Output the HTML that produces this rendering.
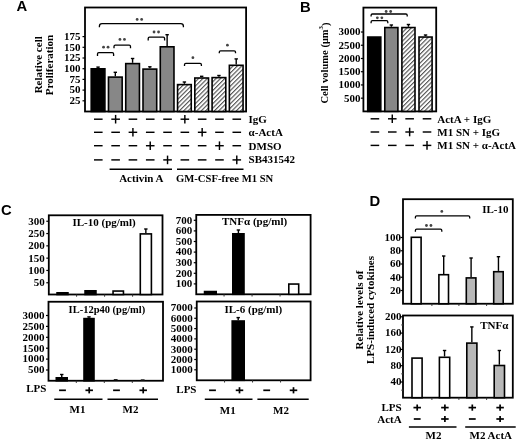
<!DOCTYPE html>
<html><head><meta charset="utf-8"><style>
html,body{margin:0;padding:0;background:#fff;width:520px;height:442px;overflow:hidden}
svg{display:block;filter:blur(0.3px)}
</style></head><body>
<svg width="520" height="442" viewBox="0 0 520 442">
<rect width="520" height="442" fill="#fff"/>
<defs><pattern id="h" patternUnits="userSpaceOnUse" width="3.1" height="3.1" patternTransform="rotate(45)"><rect width="3.1" height="3.1" fill="#fff"/><line x1="0.6" y1="0" x2="0.6" y2="3.1" stroke="#333" stroke-width="0.95"/></pattern></defs>
<text x="16.5" y="11.2" font-size="14.8" text-anchor="start" style="font-family:'Liberation Sans',sans-serif;font-weight:bold" >A</text>
<rect x="85" y="7.5" width="161.1" height="104.0" fill="none" stroke="#000" stroke-width="1.8"/>
<line x1="82.5" y1="100.8" x2="85" y2="100.8" stroke="#000" stroke-width="1.2"/>
<text x="80.5" y="104.14999999999999" font-size="11" text-anchor="end" style="font-family:'Liberation Serif',serif;font-weight:bold" >25</text>
<line x1="82.5" y1="90.1" x2="85" y2="90.1" stroke="#000" stroke-width="1.2"/>
<text x="80.5" y="93.44999999999999" font-size="11" text-anchor="end" style="font-family:'Liberation Serif',serif;font-weight:bold" >50</text>
<line x1="82.5" y1="79.4" x2="85" y2="79.4" stroke="#000" stroke-width="1.2"/>
<text x="80.5" y="82.75" font-size="11" text-anchor="end" style="font-family:'Liberation Serif',serif;font-weight:bold" >75</text>
<line x1="82.5" y1="68.7" x2="85" y2="68.7" stroke="#000" stroke-width="1.2"/>
<text x="80.5" y="72.05" font-size="11" text-anchor="end" style="font-family:'Liberation Serif',serif;font-weight:bold" >100</text>
<line x1="82.5" y1="58.0" x2="85" y2="58.0" stroke="#000" stroke-width="1.2"/>
<text x="80.5" y="61.35" font-size="11" text-anchor="end" style="font-family:'Liberation Serif',serif;font-weight:bold" >125</text>
<line x1="82.5" y1="47.30000000000001" x2="85" y2="47.30000000000001" stroke="#000" stroke-width="1.2"/>
<text x="80.5" y="50.65000000000001" font-size="11" text-anchor="end" style="font-family:'Liberation Serif',serif;font-weight:bold" >150</text>
<line x1="82.5" y1="36.60000000000001" x2="85" y2="36.60000000000001" stroke="#000" stroke-width="1.2"/>
<text x="80.5" y="39.95000000000001" font-size="11" text-anchor="end" style="font-family:'Liberation Serif',serif;font-weight:bold" >175</text>
<text x="0" y="0" font-size="11" text-anchor="middle" dominant-baseline="central" style="font-family:'Liberation Serif',serif;font-weight:bold" transform="translate(37.5,64.8) rotate(-90)">Relative cell</text>
<text x="0" y="0" font-size="11" text-anchor="middle" dominant-baseline="central" style="font-family:'Liberation Serif',serif;font-weight:bold" transform="translate(48.7,65) rotate(-90)">Proliferation</text>
<line x1="98.05000000000001" y1="68.0" x2="98.05000000000001" y2="67.1" stroke="#000" stroke-width="1.4"/>
<line x1="96.35000000000001" y1="67.1" x2="99.75000000000001" y2="67.1" stroke="#000" stroke-width="1.4"/>
<rect x="91.2" y="68.8" width="13.699999999999998" height="42.7" fill="#000" stroke="#000" stroke-width="1.6"/>
<line x1="115.32" y1="76.3" x2="115.32" y2="72.3" stroke="#000" stroke-width="1.4"/>
<line x1="113.61999999999999" y1="72.3" x2="117.02" y2="72.3" stroke="#000" stroke-width="1.4"/>
<rect x="108.47" y="77.1" width="13.699999999999998" height="34.400000000000006" fill="#878787" stroke="#000" stroke-width="1.6"/>
<line x1="132.59" y1="62.8" x2="132.59" y2="58.5" stroke="#000" stroke-width="1.4"/>
<line x1="130.89000000000001" y1="58.5" x2="134.29" y2="58.5" stroke="#000" stroke-width="1.4"/>
<rect x="125.74" y="63.599999999999994" width="13.700000000000012" height="47.900000000000006" fill="#878787" stroke="#000" stroke-width="1.6"/>
<line x1="149.86" y1="68.3" x2="149.86" y2="66.8" stroke="#000" stroke-width="1.4"/>
<line x1="148.16000000000003" y1="66.8" x2="151.56" y2="66.8" stroke="#000" stroke-width="1.4"/>
<rect x="143.01000000000002" y="69.1" width="13.700000000000012" height="42.400000000000006" fill="#878787" stroke="#000" stroke-width="1.6"/>
<line x1="167.13000000000002" y1="46" x2="167.13000000000002" y2="34.7" stroke="#000" stroke-width="1.4"/>
<line x1="165.43000000000004" y1="34.7" x2="168.83" y2="34.7" stroke="#000" stroke-width="1.4"/>
<rect x="160.28000000000003" y="46.8" width="13.700000000000012" height="64.7" fill="#878787" stroke="#000" stroke-width="1.6"/>
<line x1="184.4" y1="83.8" x2="184.4" y2="82" stroke="#000" stroke-width="1.4"/>
<line x1="182.70000000000002" y1="82" x2="186.1" y2="82" stroke="#000" stroke-width="1.4"/>
<rect x="177.55" y="84.6" width="13.700000000000012" height="26.900000000000002" fill="url(#h)" stroke="#000" stroke-width="1.6"/>
<line x1="201.67000000000002" y1="77.2" x2="201.67000000000002" y2="76.3" stroke="#000" stroke-width="1.4"/>
<line x1="199.97000000000003" y1="76.3" x2="203.37" y2="76.3" stroke="#000" stroke-width="1.4"/>
<rect x="194.82000000000002" y="78.0" width="13.700000000000012" height="33.5" fill="url(#h)" stroke="#000" stroke-width="1.6"/>
<line x1="218.94000000000003" y1="76.8" x2="218.94000000000003" y2="75.5" stroke="#000" stroke-width="1.4"/>
<line x1="217.24000000000004" y1="75.5" x2="220.64000000000001" y2="75.5" stroke="#000" stroke-width="1.4"/>
<rect x="212.09000000000003" y="77.6" width="13.700000000000012" height="33.900000000000006" fill="url(#h)" stroke="#000" stroke-width="1.6"/>
<line x1="236.21" y1="64.5" x2="236.21" y2="58.9" stroke="#000" stroke-width="1.4"/>
<line x1="234.51000000000002" y1="58.9" x2="237.91" y2="58.9" stroke="#000" stroke-width="1.4"/>
<rect x="229.36" y="65.3" width="13.700000000000012" height="46.2" fill="url(#h)" stroke="#000" stroke-width="1.6"/>
<path d="M97.5,55.900000000000006 L97.5,54.0 Q97.5,52.7 98.8,52.7 L112.3,52.7 Q113.6,52.7 113.6,54.0 L113.6,55.900000000000006" fill="none" stroke="#000" stroke-width="1.3"/>
<circle cx="103.55" cy="47.2" r="1.4" fill="#444"/>
<circle cx="108.05" cy="47.2" r="1.4" fill="#444"/>
<path d="M114,48.300000000000004 L114,46.4 Q114,45.1 115.3,45.1 L129.2,45.1 Q130.5,45.1 130.5,46.4 L130.5,48.300000000000004" fill="none" stroke="#000" stroke-width="1.3"/>
<circle cx="119.95" cy="39.4" r="1.4" fill="#444"/>
<circle cx="124.45" cy="39.4" r="1.4" fill="#444"/>
<path d="M148.2,40.400000000000006 L148.2,38.5 Q148.2,37.2 149.5,37.2 L163.29999999999998,37.2 Q164.6,37.2 164.6,38.5 L164.6,40.400000000000006" fill="none" stroke="#000" stroke-width="1.3"/>
<circle cx="154.05" cy="32.0" r="1.4" fill="#444"/>
<circle cx="158.55" cy="32.0" r="1.4" fill="#444"/>
<path d="M99.4,27.200000000000003 L99.4,26.200000000000003 Q99.4,23.6 102.0,23.6 L180.8,23.6 Q183.4,23.6 183.4,26.200000000000003 L183.4,27.200000000000003" fill="none" stroke="#000" stroke-width="1.3"/>
<circle cx="137.15" cy="19.4" r="1.4" fill="#444"/>
<circle cx="141.65" cy="19.4" r="1.4" fill="#444"/>
<path d="M184.5,65.9 L184.5,64.7 Q184.5,63.4 185.8,63.4 L200.1,63.4 Q201.4,63.4 201.4,64.7 L201.4,65.9" fill="none" stroke="#000" stroke-width="1.3"/>
<circle cx="192.9" cy="57.7" r="1.4" fill="#444"/>
<path d="M219.3,53.3 L219.3,52.099999999999994 Q219.3,50.8 220.60000000000002,50.8 L234.2,50.8 Q235.5,50.8 235.5,52.099999999999994 L235.5,53.3" fill="none" stroke="#000" stroke-width="1.3"/>
<circle cx="227.4" cy="45.2" r="1.4" fill="#444"/>
<line x1="94.0" y1="119.2" x2="102.6" y2="119.2" stroke="#000" stroke-width="1.45"/>
<line x1="111.31" y1="119.2" x2="119.91" y2="119.2" stroke="#000" stroke-width="1.45"/>
<line x1="115.61" y1="114.9" x2="115.61" y2="123.5" stroke="#000" stroke-width="1.45"/>
<line x1="128.61999999999998" y1="119.2" x2="137.22" y2="119.2" stroke="#000" stroke-width="1.45"/>
<line x1="145.92999999999998" y1="119.2" x2="154.53" y2="119.2" stroke="#000" stroke-width="1.45"/>
<line x1="163.23999999999998" y1="119.2" x2="171.84" y2="119.2" stroke="#000" stroke-width="1.45"/>
<line x1="180.54999999999998" y1="119.2" x2="189.15" y2="119.2" stroke="#000" stroke-width="1.45"/>
<line x1="184.85" y1="114.9" x2="184.85" y2="123.5" stroke="#000" stroke-width="1.45"/>
<line x1="197.85999999999996" y1="119.2" x2="206.45999999999998" y2="119.2" stroke="#000" stroke-width="1.45"/>
<line x1="215.16999999999996" y1="119.2" x2="223.76999999999998" y2="119.2" stroke="#000" stroke-width="1.45"/>
<line x1="232.47999999999996" y1="119.2" x2="241.07999999999998" y2="119.2" stroke="#000" stroke-width="1.45"/>
<line x1="94.0" y1="132.3" x2="102.6" y2="132.3" stroke="#000" stroke-width="1.45"/>
<line x1="111.31" y1="132.3" x2="119.91" y2="132.3" stroke="#000" stroke-width="1.45"/>
<line x1="128.61999999999998" y1="132.3" x2="137.22" y2="132.3" stroke="#000" stroke-width="1.45"/>
<line x1="132.92" y1="128.0" x2="132.92" y2="136.60000000000002" stroke="#000" stroke-width="1.45"/>
<line x1="145.92999999999998" y1="132.3" x2="154.53" y2="132.3" stroke="#000" stroke-width="1.45"/>
<line x1="163.23999999999998" y1="132.3" x2="171.84" y2="132.3" stroke="#000" stroke-width="1.45"/>
<line x1="180.54999999999998" y1="132.3" x2="189.15" y2="132.3" stroke="#000" stroke-width="1.45"/>
<line x1="197.85999999999996" y1="132.3" x2="206.45999999999998" y2="132.3" stroke="#000" stroke-width="1.45"/>
<line x1="202.15999999999997" y1="128.0" x2="202.15999999999997" y2="136.60000000000002" stroke="#000" stroke-width="1.45"/>
<line x1="215.16999999999996" y1="132.3" x2="223.76999999999998" y2="132.3" stroke="#000" stroke-width="1.45"/>
<line x1="232.47999999999996" y1="132.3" x2="241.07999999999998" y2="132.3" stroke="#000" stroke-width="1.45"/>
<line x1="94.0" y1="145.7" x2="102.6" y2="145.7" stroke="#000" stroke-width="1.45"/>
<line x1="111.31" y1="145.7" x2="119.91" y2="145.7" stroke="#000" stroke-width="1.45"/>
<line x1="128.61999999999998" y1="145.7" x2="137.22" y2="145.7" stroke="#000" stroke-width="1.45"/>
<line x1="145.92999999999998" y1="145.7" x2="154.53" y2="145.7" stroke="#000" stroke-width="1.45"/>
<line x1="150.23" y1="141.39999999999998" x2="150.23" y2="150.0" stroke="#000" stroke-width="1.45"/>
<line x1="163.23999999999998" y1="145.7" x2="171.84" y2="145.7" stroke="#000" stroke-width="1.45"/>
<line x1="180.54999999999998" y1="145.7" x2="189.15" y2="145.7" stroke="#000" stroke-width="1.45"/>
<line x1="197.85999999999996" y1="145.7" x2="206.45999999999998" y2="145.7" stroke="#000" stroke-width="1.45"/>
<line x1="215.16999999999996" y1="145.7" x2="223.76999999999998" y2="145.7" stroke="#000" stroke-width="1.45"/>
<line x1="219.46999999999997" y1="141.39999999999998" x2="219.46999999999997" y2="150.0" stroke="#000" stroke-width="1.45"/>
<line x1="232.47999999999996" y1="145.7" x2="241.07999999999998" y2="145.7" stroke="#000" stroke-width="1.45"/>
<line x1="94.0" y1="159.9" x2="102.6" y2="159.9" stroke="#000" stroke-width="1.45"/>
<line x1="111.31" y1="159.9" x2="119.91" y2="159.9" stroke="#000" stroke-width="1.45"/>
<line x1="128.61999999999998" y1="159.9" x2="137.22" y2="159.9" stroke="#000" stroke-width="1.45"/>
<line x1="145.92999999999998" y1="159.9" x2="154.53" y2="159.9" stroke="#000" stroke-width="1.45"/>
<line x1="163.23999999999998" y1="159.9" x2="171.84" y2="159.9" stroke="#000" stroke-width="1.45"/>
<line x1="167.54" y1="155.6" x2="167.54" y2="164.20000000000002" stroke="#000" stroke-width="1.45"/>
<line x1="180.54999999999998" y1="159.9" x2="189.15" y2="159.9" stroke="#000" stroke-width="1.45"/>
<line x1="197.85999999999996" y1="159.9" x2="206.45999999999998" y2="159.9" stroke="#000" stroke-width="1.45"/>
<line x1="215.16999999999996" y1="159.9" x2="223.76999999999998" y2="159.9" stroke="#000" stroke-width="1.45"/>
<line x1="232.47999999999996" y1="159.9" x2="241.07999999999998" y2="159.9" stroke="#000" stroke-width="1.45"/>
<line x1="236.77999999999997" y1="155.6" x2="236.77999999999997" y2="164.20000000000002" stroke="#000" stroke-width="1.45"/>
<text x="248.6" y="122.8" font-size="11" text-anchor="start" style="font-family:'Liberation Serif',serif;font-weight:bold" >IgG</text>
<text x="248.6" y="136.2" font-size="11" text-anchor="start" style="font-family:'Liberation Serif',serif;font-weight:bold" >&#945;-ActA</text>
<text x="248.6" y="149.5" font-size="11" text-anchor="start" style="font-family:'Liberation Serif',serif;font-weight:bold" >DMSO</text>
<text x="248.6" y="163.0" font-size="11" text-anchor="start" style="font-family:'Liberation Serif',serif;font-weight:bold" >SB431542</text>
<line x1="109.6" y1="169.3" x2="172" y2="169.3" stroke="#000" stroke-width="1.5"/>
<line x1="177" y1="169.3" x2="243.5" y2="169.3" stroke="#000" stroke-width="1.5"/>
<text x="141.3" y="181.5" font-size="11" text-anchor="middle" style="font-family:'Liberation Serif',serif;font-weight:bold" >Activin A</text>
<text x="176" y="181.5" font-size="11" text-anchor="start" style="font-family:'Liberation Serif',serif;font-weight:bold" textLength="97.3" lengthAdjust="spacingAndGlyphs">GM-CSF-free M1 SN</text>
<text x="300" y="11.9" font-size="14.8" text-anchor="start" style="font-family:'Liberation Sans',sans-serif;font-weight:bold" >B</text>
<rect x="363.4" y="7.6" width="72.80000000000001" height="103.80000000000001" fill="none" stroke="#000" stroke-width="1.8"/>
<line x1="360.9" y1="98.17" x2="363.4" y2="98.17" stroke="#000" stroke-width="1.2"/>
<text x="360.5" y="101.52" font-size="11" text-anchor="end" style="font-family:'Liberation Serif',serif;font-weight:bold" >500</text>
<line x1="360.9" y1="84.94" x2="363.4" y2="84.94" stroke="#000" stroke-width="1.2"/>
<text x="360.5" y="88.28999999999999" font-size="11" text-anchor="end" style="font-family:'Liberation Serif',serif;font-weight:bold" >1000</text>
<line x1="360.9" y1="71.71000000000001" x2="363.4" y2="71.71000000000001" stroke="#000" stroke-width="1.2"/>
<text x="360.5" y="75.06" font-size="11" text-anchor="end" style="font-family:'Liberation Serif',serif;font-weight:bold" >1500</text>
<line x1="360.9" y1="58.480000000000004" x2="363.4" y2="58.480000000000004" stroke="#000" stroke-width="1.2"/>
<text x="360.5" y="61.830000000000005" font-size="11" text-anchor="end" style="font-family:'Liberation Serif',serif;font-weight:bold" >2000</text>
<line x1="360.9" y1="45.25" x2="363.4" y2="45.25" stroke="#000" stroke-width="1.2"/>
<text x="360.5" y="48.6" font-size="11" text-anchor="end" style="font-family:'Liberation Serif',serif;font-weight:bold" >2500</text>
<line x1="360.9" y1="32.02000000000001" x2="363.4" y2="32.02000000000001" stroke="#000" stroke-width="1.2"/>
<text x="360.5" y="35.37000000000001" font-size="11" text-anchor="end" style="font-family:'Liberation Serif',serif;font-weight:bold" >3000</text>
<text x="0" y="0" font-size="10.5" text-anchor="middle" dominant-baseline="central" style="font-family:'Liberation Serif',serif;font-weight:bold" transform="translate(324.5,63) rotate(-90)">Cell volume (&#956;m<tspan font-size="7" dy="-4">3</tspan><tspan dy="4">)</tspan></text>
<rect x="367.7" y="37.05" width="13.099999999999989" height="74.35000000000001" fill="#000" stroke="#000" stroke-width="1.6"/>
<line x1="391.35" y1="26.75" x2="391.35" y2="25" stroke="#000" stroke-width="1.4"/>
<line x1="389.65000000000003" y1="25" x2="393.05" y2="25" stroke="#000" stroke-width="1.4"/>
<rect x="384.8" y="27.55" width="13.099999999999989" height="83.85000000000001" fill="#878787" stroke="#000" stroke-width="1.6"/>
<line x1="408.44999999999993" y1="26.75" x2="408.44999999999993" y2="24.5" stroke="#000" stroke-width="1.4"/>
<line x1="406.74999999999994" y1="24.5" x2="410.1499999999999" y2="24.5" stroke="#000" stroke-width="1.4"/>
<rect x="401.9" y="27.55" width="13.099999999999989" height="83.85000000000001" fill="url(#h)" stroke="#000" stroke-width="1.6"/>
<line x1="425.54999999999995" y1="36.25" x2="425.54999999999995" y2="35" stroke="#000" stroke-width="1.4"/>
<line x1="423.84999999999997" y1="35" x2="427.24999999999994" y2="35" stroke="#000" stroke-width="1.4"/>
<rect x="419.0" y="37.05" width="13.099999999999989" height="74.35000000000001" fill="url(#h)" stroke="#000" stroke-width="1.6"/>
<path d="M371.1,23.3 L371.1,22.0 Q371.1,20.7 372.40000000000003,20.7 L386.5,20.7 Q387.8,20.7 387.8,22.0 L387.8,23.3" fill="none" stroke="#000" stroke-width="1.3"/>
<circle cx="377.35" cy="17.8" r="1.4" fill="#444"/>
<circle cx="381.85" cy="17.8" r="1.4" fill="#444"/>
<path d="M371.1,16.6 L371.1,15.3 Q371.1,14.0 372.40000000000003,14.0 L405.9,14.0 Q407.2,14.0 407.2,15.3 L407.2,16.6" fill="none" stroke="#000" stroke-width="1.3"/>
<circle cx="386.15" cy="11.5" r="1.4" fill="#444"/>
<circle cx="390.65" cy="11.5" r="1.4" fill="#444"/>
<line x1="370.59999999999997" y1="118.8" x2="379.2" y2="118.8" stroke="#000" stroke-width="1.45"/>
<line x1="387.96999999999997" y1="118.8" x2="396.57" y2="118.8" stroke="#000" stroke-width="1.45"/>
<line x1="392.27" y1="114.5" x2="392.27" y2="123.1" stroke="#000" stroke-width="1.45"/>
<line x1="405.34" y1="118.8" x2="413.94" y2="118.8" stroke="#000" stroke-width="1.45"/>
<line x1="422.71" y1="118.8" x2="431.31" y2="118.8" stroke="#000" stroke-width="1.45"/>
<line x1="370.59999999999997" y1="132.0" x2="379.2" y2="132.0" stroke="#000" stroke-width="1.45"/>
<line x1="387.96999999999997" y1="132.0" x2="396.57" y2="132.0" stroke="#000" stroke-width="1.45"/>
<line x1="405.34" y1="132.0" x2="413.94" y2="132.0" stroke="#000" stroke-width="1.45"/>
<line x1="409.64" y1="127.7" x2="409.64" y2="136.3" stroke="#000" stroke-width="1.45"/>
<line x1="422.71" y1="132.0" x2="431.31" y2="132.0" stroke="#000" stroke-width="1.45"/>
<line x1="370.59999999999997" y1="145.4" x2="379.2" y2="145.4" stroke="#000" stroke-width="1.45"/>
<line x1="387.96999999999997" y1="145.4" x2="396.57" y2="145.4" stroke="#000" stroke-width="1.45"/>
<line x1="405.34" y1="145.4" x2="413.94" y2="145.4" stroke="#000" stroke-width="1.45"/>
<line x1="422.71" y1="145.4" x2="431.31" y2="145.4" stroke="#000" stroke-width="1.45"/>
<line x1="427.01" y1="141.1" x2="427.01" y2="149.70000000000002" stroke="#000" stroke-width="1.45"/>
<text x="437.3" y="122.7" font-size="11" text-anchor="start" style="font-family:'Liberation Serif',serif;font-weight:bold" >ActA + IgG</text>
<text x="437.3" y="136.1" font-size="11" text-anchor="start" style="font-family:'Liberation Serif',serif;font-weight:bold" >M1 SN + IgG</text>
<text x="437.3" y="149.1" font-size="11" text-anchor="start" style="font-family:'Liberation Serif',serif;font-weight:bold" >M1 SN + &#945;-ActA</text>
<text x="0.9" y="215.4" font-size="14.8" text-anchor="start" style="font-family:'Liberation Sans',sans-serif;font-weight:bold" >C</text>
<rect x="48.8" y="215.3" width="113.7" height="79.19999999999999" fill="none" stroke="#000" stroke-width="1.8"/>
<line x1="46.3" y1="221.25" x2="48.8" y2="221.25" stroke="#000" stroke-width="1.2"/>
<text x="44.8" y="224.6" font-size="11" text-anchor="end" style="font-family:'Liberation Serif',serif;font-weight:bold" >300</text>
<line x1="46.3" y1="233.55" x2="48.8" y2="233.55" stroke="#000" stroke-width="1.2"/>
<text x="44.8" y="236.9" font-size="11" text-anchor="end" style="font-family:'Liberation Serif',serif;font-weight:bold" >250</text>
<line x1="46.3" y1="245.85" x2="48.8" y2="245.85" stroke="#000" stroke-width="1.2"/>
<text x="44.8" y="249.2" font-size="11" text-anchor="end" style="font-family:'Liberation Serif',serif;font-weight:bold" >200</text>
<line x1="46.3" y1="258.15" x2="48.8" y2="258.15" stroke="#000" stroke-width="1.2"/>
<text x="44.8" y="261.5" font-size="11" text-anchor="end" style="font-family:'Liberation Serif',serif;font-weight:bold" >150</text>
<line x1="46.3" y1="270.45" x2="48.8" y2="270.45" stroke="#000" stroke-width="1.2"/>
<text x="44.8" y="273.8" font-size="11" text-anchor="end" style="font-family:'Liberation Serif',serif;font-weight:bold" >100</text>
<line x1="46.3" y1="282.75" x2="48.8" y2="282.75" stroke="#000" stroke-width="1.2"/>
<text x="44.8" y="286.1" font-size="11" text-anchor="end" style="font-family:'Liberation Serif',serif;font-weight:bold" >50</text>
<rect x="57.05" y="292.8" width="10.9" height="1.7" fill="#000" stroke="#000" stroke-width="1.6"/>
<rect x="85.05" y="290.8" width="10.9" height="3.7" fill="#000" stroke="#000" stroke-width="1.6"/>
<rect x="113.05" y="291.05" width="10.4" height="3.45" fill="#fff" stroke="#000" stroke-width="1.6"/>
<line x1="145.85" y1="233.1" x2="145.85" y2="229" stroke="#000" stroke-width="1.4"/>
<line x1="144.15" y1="229" x2="147.54999999999998" y2="229" stroke="#000" stroke-width="1.4"/>
<rect x="140.3" y="233.9" width="11.099999999999989" height="60.60000000000001" fill="#fff" stroke="#000" stroke-width="1.6"/>
<line x1="76.6" y1="294.5" x2="76.6" y2="296.7" stroke="#333" stroke-width="1.0"/>
<line x1="104.6" y1="294.5" x2="104.6" y2="296.7" stroke="#333" stroke-width="1.0"/>
<line x1="132.60000000000002" y1="294.5" x2="132.60000000000002" y2="296.7" stroke="#333" stroke-width="1.0"/>
<text x="72.5" y="226.25" font-size="11" text-anchor="start" style="font-family:'Liberation Serif',serif;font-weight:bold" >IL-10 (pg/ml)</text>
<rect x="196.25" y="214.9" width="114.35000000000002" height="79.4" fill="none" stroke="#000" stroke-width="1.8"/>
<line x1="193.75" y1="220.3" x2="196.25" y2="220.3" stroke="#000" stroke-width="1.2"/>
<text x="192.25" y="223.65" font-size="11" text-anchor="end" style="font-family:'Liberation Serif',serif;font-weight:bold" >700</text>
<line x1="193.75" y1="230.9" x2="196.25" y2="230.9" stroke="#000" stroke-width="1.2"/>
<text x="192.25" y="234.25" font-size="11" text-anchor="end" style="font-family:'Liberation Serif',serif;font-weight:bold" >600</text>
<line x1="193.75" y1="241.5" x2="196.25" y2="241.5" stroke="#000" stroke-width="1.2"/>
<text x="192.25" y="244.85" font-size="11" text-anchor="end" style="font-family:'Liberation Serif',serif;font-weight:bold" >500</text>
<line x1="193.75" y1="252.10000000000002" x2="196.25" y2="252.10000000000002" stroke="#000" stroke-width="1.2"/>
<text x="192.25" y="255.45000000000002" font-size="11" text-anchor="end" style="font-family:'Liberation Serif',serif;font-weight:bold" >400</text>
<line x1="193.75" y1="262.7" x2="196.25" y2="262.7" stroke="#000" stroke-width="1.2"/>
<text x="192.25" y="266.05" font-size="11" text-anchor="end" style="font-family:'Liberation Serif',serif;font-weight:bold" >300</text>
<line x1="193.75" y1="273.3" x2="196.25" y2="273.3" stroke="#000" stroke-width="1.2"/>
<text x="192.25" y="276.65000000000003" font-size="11" text-anchor="end" style="font-family:'Liberation Serif',serif;font-weight:bold" >200</text>
<line x1="193.75" y1="283.9" x2="196.25" y2="283.9" stroke="#000" stroke-width="1.2"/>
<text x="192.25" y="287.25" font-size="11" text-anchor="end" style="font-family:'Liberation Serif',serif;font-weight:bold" >100</text>
<rect x="204.55" y="291.55" width="11.65" height="2.7500000000000115" fill="#000" stroke="#000" stroke-width="1.6"/>
<line x1="238.4" y1="233" x2="238.4" y2="230" stroke="#000" stroke-width="1.4"/>
<line x1="236.70000000000002" y1="230" x2="240.1" y2="230" stroke="#000" stroke-width="1.4"/>
<rect x="232.8" y="233.8" width="11.200000000000012" height="60.500000000000014" fill="#000" stroke="#000" stroke-width="1.6"/>
<rect x="288.8" y="284.05" width="9.9" height="10.25000000000001" fill="#fff" stroke="#000" stroke-width="1.6"/>
<line x1="224.05" y1="294.3" x2="224.05" y2="296.5" stroke="#333" stroke-width="1.0"/>
<line x1="252.05" y1="294.3" x2="252.05" y2="296.5" stroke="#333" stroke-width="1.0"/>
<line x1="280.05" y1="294.3" x2="280.05" y2="296.5" stroke="#333" stroke-width="1.0"/>
<text x="222" y="224.7" font-size="11" text-anchor="start" style="font-family:'Liberation Serif',serif;font-weight:bold" >TNF&#945; (pg/ml)</text>
<rect x="48.5" y="301.75" width="114.5" height="79.0" fill="none" stroke="#000" stroke-width="1.8"/>
<line x1="46.0" y1="315.5" x2="48.5" y2="315.5" stroke="#000" stroke-width="1.2"/>
<text x="44.5" y="318.85" font-size="11" text-anchor="end" style="font-family:'Liberation Serif',serif;font-weight:bold" >3000</text>
<line x1="46.0" y1="326.4" x2="48.5" y2="326.4" stroke="#000" stroke-width="1.2"/>
<text x="44.5" y="329.75" font-size="11" text-anchor="end" style="font-family:'Liberation Serif',serif;font-weight:bold" >2500</text>
<line x1="46.0" y1="337.3" x2="48.5" y2="337.3" stroke="#000" stroke-width="1.2"/>
<text x="44.5" y="340.65000000000003" font-size="11" text-anchor="end" style="font-family:'Liberation Serif',serif;font-weight:bold" >2000</text>
<line x1="46.0" y1="348.2" x2="48.5" y2="348.2" stroke="#000" stroke-width="1.2"/>
<text x="44.5" y="351.55" font-size="11" text-anchor="end" style="font-family:'Liberation Serif',serif;font-weight:bold" >1500</text>
<line x1="46.0" y1="359.1" x2="48.5" y2="359.1" stroke="#000" stroke-width="1.2"/>
<text x="44.5" y="362.45000000000005" font-size="11" text-anchor="end" style="font-family:'Liberation Serif',serif;font-weight:bold" >1000</text>
<line x1="46.0" y1="370.0" x2="48.5" y2="370.0" stroke="#000" stroke-width="1.2"/>
<text x="44.5" y="373.35" font-size="11" text-anchor="end" style="font-family:'Liberation Serif',serif;font-weight:bold" >500</text>
<line x1="61.75" y1="377" x2="61.75" y2="374.5" stroke="#000" stroke-width="1.4"/>
<line x1="60.05" y1="374.5" x2="63.45" y2="374.5" stroke="#000" stroke-width="1.4"/>
<rect x="56.3" y="377.8" width="10.9" height="2.95" fill="#000" stroke="#000" stroke-width="1.6"/>
<line x1="89.0" y1="317.8" x2="89.0" y2="316.9" stroke="#000" stroke-width="1.4"/>
<line x1="87.3" y1="316.9" x2="90.7" y2="316.9" stroke="#000" stroke-width="1.4"/>
<rect x="84.0" y="318.6" width="9.999999999999995" height="62.14999999999999" fill="#000" stroke="#000" stroke-width="1.6"/>
<line x1="76.3" y1="380.75" x2="76.3" y2="382.95" stroke="#333" stroke-width="1.0"/>
<line x1="104.3" y1="380.75" x2="104.3" y2="382.95" stroke="#333" stroke-width="1.0"/>
<line x1="132.3" y1="380.75" x2="132.3" y2="382.95" stroke="#333" stroke-width="1.0"/>
<text x="68.6" y="312.8" font-size="11" text-anchor="start" style="font-family:'Liberation Serif',serif;font-weight:bold" textLength="76.6" lengthAdjust="spacingAndGlyphs">IL-12p40 (pg/ml)</text>
<line x1="113.8" y1="379.6" x2="117.6" y2="379.6" stroke="#222" stroke-width="1.2"/>
<line x1="140.8" y1="379.6" x2="144.6" y2="379.6" stroke="#555" stroke-width="1.2"/>
<rect x="196.75" y="301.5" width="113.85000000000002" height="78.80000000000001" fill="none" stroke="#000" stroke-width="1.8"/>
<line x1="194.25" y1="308.0" x2="196.75" y2="308.0" stroke="#000" stroke-width="1.2"/>
<text x="192.75" y="311.35" font-size="11" text-anchor="end" style="font-family:'Liberation Serif',serif;font-weight:bold" >7000</text>
<line x1="194.25" y1="318.3" x2="196.75" y2="318.3" stroke="#000" stroke-width="1.2"/>
<text x="192.75" y="321.65000000000003" font-size="11" text-anchor="end" style="font-family:'Liberation Serif',serif;font-weight:bold" >6000</text>
<line x1="194.25" y1="328.6" x2="196.75" y2="328.6" stroke="#000" stroke-width="1.2"/>
<text x="192.75" y="331.95000000000005" font-size="11" text-anchor="end" style="font-family:'Liberation Serif',serif;font-weight:bold" >5000</text>
<line x1="194.25" y1="338.9" x2="196.75" y2="338.9" stroke="#000" stroke-width="1.2"/>
<text x="192.75" y="342.25" font-size="11" text-anchor="end" style="font-family:'Liberation Serif',serif;font-weight:bold" >4000</text>
<line x1="194.25" y1="349.2" x2="196.75" y2="349.2" stroke="#000" stroke-width="1.2"/>
<text x="192.75" y="352.55" font-size="11" text-anchor="end" style="font-family:'Liberation Serif',serif;font-weight:bold" >3000</text>
<line x1="194.25" y1="359.5" x2="196.75" y2="359.5" stroke="#000" stroke-width="1.2"/>
<text x="192.75" y="362.85" font-size="11" text-anchor="end" style="font-family:'Liberation Serif',serif;font-weight:bold" >2000</text>
<line x1="194.25" y1="369.8" x2="196.75" y2="369.8" stroke="#000" stroke-width="1.2"/>
<text x="192.75" y="373.15000000000003" font-size="11" text-anchor="end" style="font-family:'Liberation Serif',serif;font-weight:bold" >1000</text>
<line x1="238.2" y1="320.2" x2="238.2" y2="317.6" stroke="#000" stroke-width="1.4"/>
<line x1="236.5" y1="317.6" x2="239.89999999999998" y2="317.6" stroke="#000" stroke-width="1.4"/>
<rect x="232.20000000000002" y="321.0" width="11.999999999999995" height="59.300000000000026" fill="#000" stroke="#000" stroke-width="1.6"/>
<line x1="224.55" y1="380.3" x2="224.55" y2="382.5" stroke="#333" stroke-width="1.0"/>
<line x1="252.55" y1="380.3" x2="252.55" y2="382.5" stroke="#333" stroke-width="1.0"/>
<line x1="280.55" y1="380.3" x2="280.55" y2="382.5" stroke="#333" stroke-width="1.0"/>
<text x="224.5" y="313" font-size="11" text-anchor="start" style="font-family:'Liberation Serif',serif;font-weight:bold" >IL-6 (pg/ml)</text>
<line x1="59.1" y1="390.3" x2="65.9" y2="390.3" stroke="#000" stroke-width="1.7"/>
<line x1="85.45" y1="390.3" x2="92.95" y2="390.3" stroke="#000" stroke-width="1.7"/>
<line x1="89.2" y1="387.2" x2="89.2" y2="393.40000000000003" stroke="#000" stroke-width="1.7"/>
<line x1="113.1" y1="390.3" x2="119.9" y2="390.3" stroke="#000" stroke-width="1.7"/>
<line x1="139.45" y1="390.3" x2="146.95" y2="390.3" stroke="#000" stroke-width="1.7"/>
<line x1="143.2" y1="387.2" x2="143.2" y2="393.40000000000003" stroke="#000" stroke-width="1.7"/>
<line x1="209.1" y1="390.3" x2="215.9" y2="390.3" stroke="#000" stroke-width="1.7"/>
<line x1="235.75" y1="390.3" x2="243.25" y2="390.3" stroke="#000" stroke-width="1.7"/>
<line x1="239.5" y1="387.2" x2="239.5" y2="393.40000000000003" stroke="#000" stroke-width="1.7"/>
<line x1="263.3" y1="390.3" x2="270.09999999999997" y2="390.3" stroke="#000" stroke-width="1.7"/>
<line x1="289.75" y1="390.3" x2="297.25" y2="390.3" stroke="#000" stroke-width="1.7"/>
<line x1="293.5" y1="387.2" x2="293.5" y2="393.40000000000003" stroke="#000" stroke-width="1.7"/>
<text x="46.4" y="392.2" font-size="11" text-anchor="end" style="font-family:'Liberation Serif',serif;font-weight:bold" >LPS</text>
<text x="196.5" y="392.6" font-size="11" text-anchor="end" style="font-family:'Liberation Serif',serif;font-weight:bold" >LPS</text>
<line x1="54.25" y1="399.3" x2="102.5" y2="399.3" stroke="#000" stroke-width="1.5"/>
<line x1="107.5" y1="399.3" x2="158" y2="399.3" stroke="#000" stroke-width="1.5"/>
<line x1="204.8" y1="399.3" x2="252.5" y2="399.3" stroke="#000" stroke-width="1.5"/>
<line x1="257.4" y1="399.3" x2="308.7" y2="399.3" stroke="#000" stroke-width="1.5"/>
<text x="77.5" y="412.5" font-size="11" text-anchor="middle" style="font-family:'Liberation Serif',serif;font-weight:bold" >M1</text>
<text x="130.5" y="412.5" font-size="11" text-anchor="middle" style="font-family:'Liberation Serif',serif;font-weight:bold" >M2</text>
<text x="227.7" y="413.5" font-size="11" text-anchor="middle" style="font-family:'Liberation Serif',serif;font-weight:bold" >M1</text>
<text x="281" y="413.5" font-size="11" text-anchor="middle" style="font-family:'Liberation Serif',serif;font-weight:bold" >M2</text>
<text x="369.6" y="206.2" font-size="14.8" text-anchor="start" style="font-family:'Liberation Sans',sans-serif;font-weight:bold" >D</text>
<rect x="403" y="199.2" width="109.79999999999995" height="104.55000000000001" fill="none" stroke="#000" stroke-width="1.8"/>
<line x1="400.5" y1="237.5" x2="403" y2="237.5" stroke="#000" stroke-width="1.2"/>
<text x="401.1" y="240.85" font-size="11" text-anchor="end" style="font-family:'Liberation Serif',serif;font-weight:bold" >100</text>
<line x1="400.5" y1="250.75" x2="403" y2="250.75" stroke="#000" stroke-width="1.2"/>
<text x="401.1" y="254.1" font-size="11" text-anchor="end" style="font-family:'Liberation Serif',serif;font-weight:bold" >80</text>
<line x1="400.5" y1="264.0" x2="403" y2="264.0" stroke="#000" stroke-width="1.2"/>
<text x="401.1" y="267.35" font-size="11" text-anchor="end" style="font-family:'Liberation Serif',serif;font-weight:bold" >60</text>
<line x1="400.5" y1="277.25" x2="403" y2="277.25" stroke="#000" stroke-width="1.2"/>
<text x="401.1" y="280.6" font-size="11" text-anchor="end" style="font-family:'Liberation Serif',serif;font-weight:bold" >40</text>
<line x1="400.5" y1="290.5" x2="403" y2="290.5" stroke="#000" stroke-width="1.2"/>
<text x="401.1" y="293.85" font-size="11" text-anchor="end" style="font-family:'Liberation Serif',serif;font-weight:bold" >20</text>
<rect x="411.3" y="237.3" width="9.799999999999978" height="66.45" fill="#fff" stroke="#000" stroke-width="1.6"/>
<line x1="443.70000000000005" y1="273.9" x2="443.70000000000005" y2="256" stroke="#000" stroke-width="1.4"/>
<line x1="442.00000000000006" y1="256" x2="445.40000000000003" y2="256" stroke="#000" stroke-width="1.4"/>
<rect x="438.90000000000003" y="274.7" width="9.599999999999989" height="29.050000000000022" fill="#fff" stroke="#000" stroke-width="1.6"/>
<line x1="471.1" y1="277.1" x2="471.1" y2="258" stroke="#000" stroke-width="1.4"/>
<line x1="469.40000000000003" y1="258" x2="472.8" y2="258" stroke="#000" stroke-width="1.4"/>
<rect x="466.3" y="277.90000000000003" width="9.599999999999989" height="25.849999999999977" fill="#b8b8b8" stroke="#000" stroke-width="1.6"/>
<line x1="498.45" y1="270.9" x2="498.45" y2="256.7" stroke="#000" stroke-width="1.4"/>
<line x1="496.75" y1="256.7" x2="500.15" y2="256.7" stroke="#000" stroke-width="1.4"/>
<rect x="493.7" y="271.7" width="9.500000000000023" height="32.050000000000026" fill="#b8b8b8" stroke="#000" stroke-width="1.6"/>
<line x1="431.9" y1="303.75" x2="431.9" y2="305.95" stroke="#333" stroke-width="1.0"/>
<line x1="458.9" y1="303.75" x2="458.9" y2="305.95" stroke="#333" stroke-width="1.0"/>
<line x1="486.6" y1="303.75" x2="486.6" y2="305.95" stroke="#333" stroke-width="1.0"/>
<text x="482.2" y="212.9" font-size="11" text-anchor="start" style="font-family:'Liberation Serif',serif;font-weight:bold" >IL-10</text>
<path d="M415.4,231.79999999999998 L415.4,230.5 Q415.4,229.2 416.7,229.2 L440.5,229.2 Q441.8,229.2 441.8,230.5 L441.8,231.79999999999998" fill="none" stroke="#000" stroke-width="1.3"/>
<circle cx="426.45" cy="225.5" r="1.4" fill="#444"/>
<circle cx="430.95" cy="225.5" r="1.4" fill="#444"/>
<path d="M415.4,218.4 L415.4,217.10000000000002 Q415.4,215.8 416.7,215.8 L468.4,215.8 Q469.7,215.8 469.7,217.10000000000002 L469.7,218.4" fill="none" stroke="#000" stroke-width="1.3"/>
<circle cx="441.8" cy="211.4" r="1.4" fill="#444"/>
<rect x="403" y="315.5" width="109.79999999999995" height="82.19999999999999" fill="none" stroke="#000" stroke-width="1.8"/>
<line x1="400.5" y1="316.8" x2="403" y2="316.8" stroke="#000" stroke-width="1.2"/>
<text x="401.6" y="320.15000000000003" font-size="11" text-anchor="end" style="font-family:'Liberation Serif',serif;font-weight:bold" >200</text>
<line x1="401.2" y1="324.95" x2="403" y2="324.95" stroke="#444" stroke-width="1.0"/>
<line x1="400.5" y1="333.1" x2="403" y2="333.1" stroke="#000" stroke-width="1.2"/>
<text x="401.6" y="336.45000000000005" font-size="11" text-anchor="end" style="font-family:'Liberation Serif',serif;font-weight:bold" >160</text>
<line x1="401.2" y1="341.25" x2="403" y2="341.25" stroke="#444" stroke-width="1.0"/>
<line x1="400.5" y1="349.40000000000003" x2="403" y2="349.40000000000003" stroke="#000" stroke-width="1.2"/>
<text x="401.6" y="352.75000000000006" font-size="11" text-anchor="end" style="font-family:'Liberation Serif',serif;font-weight:bold" >120</text>
<line x1="401.2" y1="357.55" x2="403" y2="357.55" stroke="#444" stroke-width="1.0"/>
<line x1="400.5" y1="365.70000000000005" x2="403" y2="365.70000000000005" stroke="#000" stroke-width="1.2"/>
<text x="401.6" y="369.05000000000007" font-size="11" text-anchor="end" style="font-family:'Liberation Serif',serif;font-weight:bold" >80</text>
<line x1="401.2" y1="373.85" x2="403" y2="373.85" stroke="#444" stroke-width="1.0"/>
<line x1="400.5" y1="382.0" x2="403" y2="382.0" stroke="#000" stroke-width="1.2"/>
<text x="401.6" y="385.35" font-size="11" text-anchor="end" style="font-family:'Liberation Serif',serif;font-weight:bold" >40</text>
<line x1="401.2" y1="390.15" x2="403" y2="390.15" stroke="#444" stroke-width="1.0"/>
<rect x="412.0" y="358.1" width="10.099999999999989" height="39.59999999999998" fill="#fff" stroke="#000" stroke-width="1.6"/>
<line x1="444.55" y1="356.5" x2="444.55" y2="350.5" stroke="#000" stroke-width="1.4"/>
<line x1="442.85" y1="350.5" x2="446.25" y2="350.5" stroke="#000" stroke-width="1.4"/>
<rect x="439.40000000000003" y="357.3" width="10.299999999999978" height="40.39999999999999" fill="#fff" stroke="#000" stroke-width="1.6"/>
<line x1="471.85" y1="342.3" x2="471.85" y2="326.9" stroke="#000" stroke-width="1.4"/>
<line x1="470.15000000000003" y1="326.9" x2="473.55" y2="326.9" stroke="#000" stroke-width="1.4"/>
<rect x="466.8" y="343.1" width="10.099999999999989" height="54.59999999999998" fill="#b8b8b8" stroke="#000" stroke-width="1.6"/>
<line x1="499.35" y1="364.7" x2="499.35" y2="350.5" stroke="#000" stroke-width="1.4"/>
<line x1="497.65000000000003" y1="350.5" x2="501.05" y2="350.5" stroke="#000" stroke-width="1.4"/>
<rect x="494.2" y="365.5" width="10.300000000000034" height="32.2" fill="#b8b8b8" stroke="#000" stroke-width="1.6"/>
<line x1="431.9" y1="397.7" x2="431.9" y2="399.9" stroke="#333" stroke-width="1.0"/>
<line x1="458.9" y1="397.7" x2="458.9" y2="399.9" stroke="#333" stroke-width="1.0"/>
<line x1="486.6" y1="397.7" x2="486.6" y2="399.9" stroke="#333" stroke-width="1.0"/>
<text x="480.2" y="329.4" font-size="11" text-anchor="start" style="font-family:'Liberation Serif',serif;font-weight:bold" >TNF&#945;</text>
<text x="0" y="0" font-size="11" text-anchor="middle" dominant-baseline="central" style="font-family:'Liberation Serif',serif;font-weight:bold" transform="translate(358.5,310) rotate(-90)">Relative levels of</text>
<text x="0" y="0" font-size="11" text-anchor="middle" dominant-baseline="central" style="font-family:'Liberation Serif',serif;font-weight:bold" transform="translate(370.2,310) rotate(-90)">LPS-induced cytokines</text>
<line x1="413.45" y1="407.6" x2="420.95" y2="407.6" stroke="#000" stroke-width="1.7"/>
<line x1="417.2" y1="404.5" x2="417.2" y2="410.70000000000005" stroke="#000" stroke-width="1.7"/>
<line x1="441.15" y1="407.6" x2="448.65" y2="407.6" stroke="#000" stroke-width="1.7"/>
<line x1="444.9" y1="404.5" x2="444.9" y2="410.70000000000005" stroke="#000" stroke-width="1.7"/>
<line x1="468.55" y1="407.6" x2="476.05" y2="407.6" stroke="#000" stroke-width="1.7"/>
<line x1="472.3" y1="404.5" x2="472.3" y2="410.70000000000005" stroke="#000" stroke-width="1.7"/>
<line x1="496.35" y1="407.6" x2="503.85" y2="407.6" stroke="#000" stroke-width="1.7"/>
<line x1="500.1" y1="404.5" x2="500.1" y2="410.70000000000005" stroke="#000" stroke-width="1.7"/>
<line x1="413.8" y1="419" x2="420.59999999999997" y2="419" stroke="#000" stroke-width="1.7"/>
<line x1="441.15" y1="419" x2="448.65" y2="419" stroke="#000" stroke-width="1.7"/>
<line x1="444.9" y1="415.9" x2="444.9" y2="422.1" stroke="#000" stroke-width="1.7"/>
<line x1="468.90000000000003" y1="419" x2="475.7" y2="419" stroke="#000" stroke-width="1.7"/>
<line x1="496.35" y1="419" x2="503.85" y2="419" stroke="#000" stroke-width="1.7"/>
<line x1="500.1" y1="415.9" x2="500.1" y2="422.1" stroke="#000" stroke-width="1.7"/>
<text x="401.7" y="411" font-size="11" text-anchor="end" style="font-family:'Liberation Serif',serif;font-weight:bold" >LPS</text>
<text x="401.7" y="422.5" font-size="11" text-anchor="end" style="font-family:'Liberation Serif',serif;font-weight:bold" >ActA</text>
<line x1="408.9" y1="426.9" x2="456.5" y2="426.9" stroke="#000" stroke-width="1.5"/>
<line x1="465.2" y1="426.9" x2="515.7" y2="426.9" stroke="#000" stroke-width="1.5"/>
<text x="433.5" y="439" font-size="11" text-anchor="middle" style="font-family:'Liberation Serif',serif;font-weight:bold" >M2</text>
<text x="490.8" y="439" font-size="11" text-anchor="middle" style="font-family:'Liberation Serif',serif;font-weight:bold" >M2 ActA</text>
</svg>
</body></html>
